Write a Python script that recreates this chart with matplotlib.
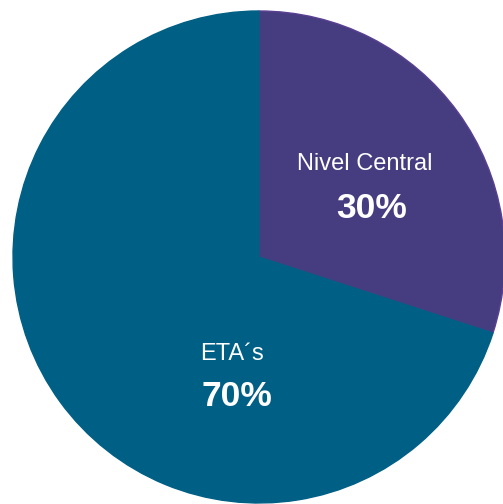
import matplotlib
matplotlib.use("Agg")
import matplotlib.pyplot as plt

labels = ["Nivel Central", "ETA´s"]
values = [30, 70]
pct_labels = ["30%", "70%"]
colors = ["#463D80", "#005F85"]
edge_colors = ["#5A3F92", "#005F85"]

W, H = 503, 504
fig = plt.figure(figsize=(W / 100, H / 100), dpi=100)
ax = fig.add_axes([0, 0, 1, 1])

cx, cy, r = 259, H - 257, 246
wedges, _ = ax.pie(values, colors=colors, startangle=90, counterclock=False,
                   radius=r, center=(cx, cy), frame=True,
                   wedgeprops=dict(linewidth=1.0))
for w, ec in zip(wedges, edge_colors):
    w.set_edgecolor(ec)
ax.set_xlim(0, W)
ax.set_ylim(0, H)
ax.set_aspect("equal")
ax.axis("off")

font = ["Liberation Sans", "DejaVu Sans"]
pos_name = [(365, H - 164), (232, H - 354)]
pos_pct = [(372, H - 209), (237, H - 396)]
for i in range(len(labels)):
    ax.text(*pos_name[i], labels[i], color="white", fontsize=17, family=font,
            ha="center", va="center")
    ax.text(*pos_pct[i], pct_labels[i], color="white", fontsize=25.5, family=font,
            fontweight="bold", ha="center", va="center")

fig.savefig("out.png", dpi=100)
